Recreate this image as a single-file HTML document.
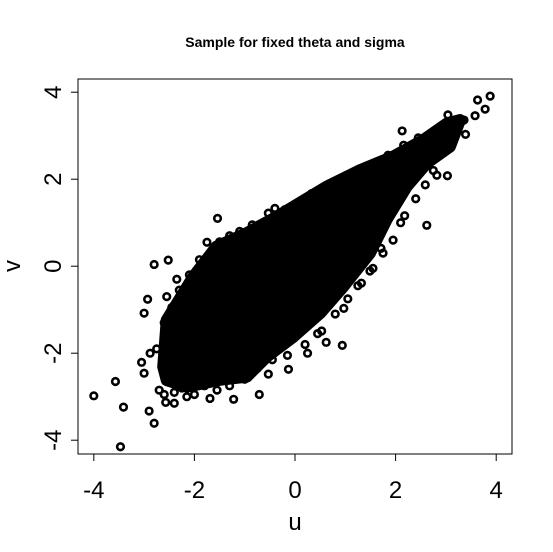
<!DOCTYPE html>
<html><head><meta charset="utf-8"><style>
html,body{margin:0;padding:0;background:#fff;}
svg{display:block;font-family:"Liberation Sans",Arial,sans-serif;}
</style></head><body>
<svg id="chart" width="553" height="552">
<text x="295" y="47" text-anchor="middle" font-size="14" font-weight="bold">Sample for fixed theta and sigma</text>
<rect x="78" y="79" width="434" height="375" fill="none" stroke="#000" stroke-width="1"/>
<g id="core"></g>
<g id="pts"></g>
<g id="xax"></g>
<g id="yax"></g>
<text x="295" y="530" text-anchor="middle" font-size="24">u</text>
<text transform="translate(20,266) rotate(-90)" text-anchor="middle" font-size="24">v</text>
</svg>
<script>
const xTicks=[-4,-2,0,2,4];
const yTicks=[-4,-2,0,2,4];
const coreU=[-2.62,-2.55,-2.02,-1.56,-0.96,-0.36,0.63,1.30,1.95,2.55,3.02,3.28,3.08,2.62,2.22,1.82,1.49,0.96,0.50,-0.03,-0.56,-0.96,-1.49,-2.15,-2.55];
const coreV=[-2.31,-1.24,-0.24,0.45,0.76,1.14,1.83,2.21,2.52,2.90,3.28,3.36,2.75,2.37,1.83,1.07,0.30,-0.47,-1.08,-1.62,-2.08,-2.54,-2.61,-2.77,-2.62];
const ptU=[-4.0,-3.57,-3.41,-3.47,-2.80,-2.90,-2.80,-2.52,-2.93,-3.00,-1.54,-0.53,2.13,2.62,3.03,3.39,3.88,3.63,3.78,3.58,3.36,0.94,0.62,-0.13,-0.71,-1.69,-2.40,-2.57,1.49,1.32,0.97,0.53,0.25,2.82,2.59,2.18,1.71,-2.35,-2.55,-3.05,-3.0,-2.88,-0.53,-1.22,-2.15,-1.5,-0.4,0.33,1.13,1.76,2.16,2.95,3.04,
 -2.75,-2.6,-2.45,-2.3,-2.1,-1.9,-1.75,-1.3,-1.1,-0.85,-0.2,0.1,0.4,0.75,0.9,1.45,1.6,1.85,2.3,2.45,2.7,2.9,3.15,
 -2.7,-2.6,-2.4,-2.25,-2.0,-1.8,-1.55,-1.3,-1.0,-0.75,-0.45,-0.15,0.2,0.45,0.8,1.05,1.25,1.55,1.75,1.95,2.1,2.4,2.75];
const ptV=[-2.98,-2.65,-3.24,-4.15,-3.61,-3.33,0.04,0.14,-0.76,-1.08,1.10,1.22,3.11,0.94,2.08,3.03,3.91,3.82,3.61,3.46,3.36,-1.82,-1.75,-2.37,-2.95,-3.04,-3.15,-3.13,-0.11,-0.39,-0.97,-1.49,-2.00,2.09,1.87,1.16,0.41,-0.3,-0.70,-2.21,-2.46,-2.0,-2.48,-3.06,-3.0,0.56,1.33,1.67,2.06,2.4,2.78,3.24,3.48,
 -1.9,-1.3,-0.95,-0.55,-0.2,0.15,0.55,0.7,0.8,0.95,1.3,1.45,1.55,1.85,1.95,2.25,2.3,2.55,2.75,2.95,3.0,3.1,3.35,
 -2.85,-2.95,-2.9,-2.8,-2.95,-2.75,-2.85,-2.75,-2.6,-2.35,-2.15,-2.05,-1.8,-1.55,-1.1,-0.75,-0.45,-0.05,0.3,0.6,1.0,1.55,2.2];
const NS='http://www.w3.org/2000/svg';
function sx(u){return 295+u*50.3;}
function sy(v){return 266.2-v*43.5;}
function mk(t,a,parent){const e=document.createElementNS(NS,t);for(const k in a)e.setAttribute(k,a[k]);parent.appendChild(e);return e;}
const core=document.getElementById('core');
const poly=mk('polygon',{points:coreU.map((u,i)=>sx(u)+','+sy(coreV[i])).join(' '),fill:'#000',stroke:'#000','stroke-width':12,'stroke-linejoin':'round'},core);


const pts=document.getElementById('pts');
ptU.forEach((u,i)=>{
  const c=mk('circle',{cx:sx(u),cy:sy(ptV[i]),r:3.3,fill:'none',stroke:'#000','stroke-width':2.6},pts);
  
  
});
const xax=document.getElementById('xax');
mk('line',{x1:sx(-4),x2:sx(4),y1:454,y2:454,stroke:'#000'},xax);
xTicks.forEach(t=>{
  const l=mk('line',{x1:sx(t),x2:sx(t),y1:454,y2:461,stroke:'#000'},xax);
  
  
  const tx=mk('text',{x:sx(t),y:498,'text-anchor':'middle','font-size':24},xax);
  tx.textContent=t;
  
  
});
const yax=document.getElementById('yax');
mk('line',{x1:78,x2:78,y1:sy(4),y2:sy(-4),stroke:'#000'},yax);
yTicks.forEach(t=>{
  const l=mk('line',{x1:71,x2:78,y1:sy(t),y2:sy(t),stroke:'#000'},yax);
  
  
  const tx=mk('text',{transform:'translate(61,'+sy(t)+') rotate(-90)','text-anchor':'middle','font-size':24},yax);
  tx.textContent=t;
  
  
});
</script>
</body></html>
